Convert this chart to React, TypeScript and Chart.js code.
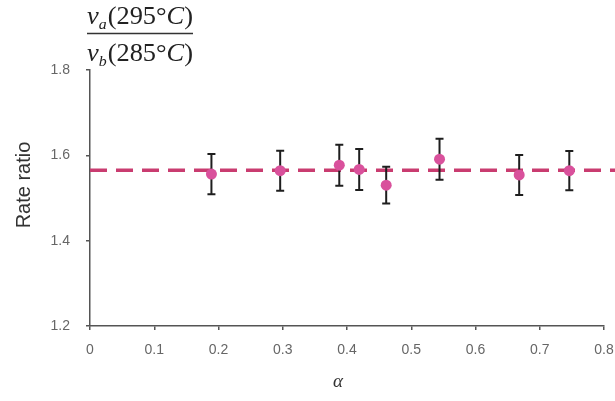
import React, { useEffect, useRef } from 'react';
import { Chart, registerables } from 'chart.js';

Chart.register(...registerables);

// ---- data ----
const alphaValues = [0.189, 0.296, 0.388, 0.419, 0.461, 0.544, 0.668, 0.746];
const rateRatios = [1.556, 1.564, 1.577, 1.567, 1.530, 1.591, 1.554, 1.564];
const rateErrors = [0.047, 0.047, 0.048, 0.048, 0.043, 0.048, 0.047, 0.046];
const meanRatio = 1.565;
const meanLineStart = 0;
const meanLineEnd = 0.825;

const xMin = 0;
const xMax = 0.8;
const xStep = 0.1;
const yMin = 1.2;
const yMax = 1.8;
const yStep = 0.2;

const yTitle = 'Rate ratio';
const xTitle = 'α';
const numeratorParts = [
  { text: 'v', style: 'italic' },
  { text: 'a', style: 'sub' },
  { text: '(295°', style: 'normal' },
  { text: 'C', style: 'italic' },
  { text: ')', style: 'normal' },
];
const denominatorParts = [
  { text: 'v', style: 'italic' },
  { text: 'b', style: 'sub' },
  { text: '(285°', style: 'normal' },
  { text: 'C', style: 'italic' },
  { text: ')', style: 'normal' },
];

const MARKER_COLOR = '#d9519c';
const LINE_COLOR = '#c93c70';
const AXIS_COLOR = '#555555';
const TEXT_COLOR = '#222222';

function partFont(style: string) {
  if (style === 'italic') return 'italic 25px "Liberation Serif"';
  if (style === 'sub') return 'italic 15px "Liberation Serif"';
  return '25px "Liberation Serif"';
}

function drawFormulaLine(ctx: CanvasRenderingContext2D, parts: { text: string; style: string }[], x: number, y: number, sx: number) {
  let cx = 0;
  ctx.save();
  ctx.translate(x, y);
  ctx.scale(sx, 1);
  for (const p of parts) {
    ctx.font = partFont(p.style);
    const dy = p.style === 'sub' ? 5 : 0;
    ctx.fillText(p.text, cx, dy);
    cx += ctx.measureText(p.text).width + (p.style === 'sub' ? 1 : 0);
  }
  ctx.restore();
}

function measureFormula(ctx: CanvasRenderingContext2D, parts: { text: string; style: string }[]) {
  let w = 0;
  for (const p of parts) {
    ctx.font = partFont(p.style);
    w += ctx.measureText(p.text).width + (p.style === 'sub' ? 1 : 0);
  }
  return w;
}

const decorPlugin = {
  id: 'decor',
  beforeDatasetDraw(chart: any, args: any) {
    if (args.index !== 0) return;
    const ctx = chart.ctx as CanvasRenderingContext2D;
    const xs = chart.scales.x;
    const ys = chart.scales.y;
    ctx.save();
    ctx.strokeStyle = '#1e1e1e';
    ctx.lineWidth = 2;
    for (let i = 0; i < alphaValues.length; i++) {
      const px = xs.getPixelForValue(alphaValues[i]);
      const top = ys.getPixelForValue(rateRatios[i] + rateErrors[i]);
      const bot = ys.getPixelForValue(rateRatios[i] - rateErrors[i]);
      ctx.beginPath();
      ctx.moveTo(px, top);
      ctx.lineTo(px, bot);
      ctx.moveTo(px - 4, top);
      ctx.lineTo(px + 4, top);
      ctx.moveTo(px - 4, bot);
      ctx.lineTo(px + 4, bot);
      ctx.stroke();
    }
    ctx.restore();
  },
  afterDraw(chart: any) {
    const ctx = chart.ctx as CanvasRenderingContext2D;
    const area = chart.chartArea;
    ctx.save();
    ctx.fillStyle = '#333333';
    // y title
    ctx.save();
    ctx.translate(24, 185);
    ctx.rotate(-Math.PI / 2);
    ctx.font = '20px "Liberation Sans"';
    ctx.textAlign = 'center';
    ctx.textBaseline = 'middle';
    ctx.fillText(yTitle, 0, 0);
    ctx.restore();
    // x title
    ctx.font = 'italic 19px "Liberation Serif"';
    ctx.textAlign = 'center';
    ctx.textBaseline = 'alphabetic';
    ctx.fillText(xTitle, 338, 387);
    // formula
    ctx.fillStyle = TEXT_COLOR;
    ctx.textAlign = 'left';
    const left = area.left - 3;
    const targetW = 106;
    const w = Math.max(measureFormula(ctx, numeratorParts), measureFormula(ctx, denominatorParts));
    const sx = targetW / w;
    drawFormulaLine(ctx, numeratorParts, left, 24, sx);
    ctx.strokeStyle = '#333333';
    ctx.lineWidth = 1.5;
    ctx.beginPath();
    ctx.moveTo(left, 33.5);
    ctx.lineTo(left + targetW, 33.5);
    ctx.stroke();
    drawFormulaLine(ctx, denominatorParts, left, 61, sx);
    ctx.restore();
  },
};

export default function App() {
  const canvasRef = useRef<HTMLCanvasElement | null>(null);

  useEffect(() => {
    const canvas = canvasRef.current;
    if (!canvas) return;
    const chart = new Chart(canvas, {
      type: 'scatter',
      data: {
        datasets: [
          {
            label: 'Rate ratio',
            data: alphaValues.map((a, i) => ({ x: a, y: rateRatios[i] })),
            backgroundColor: MARKER_COLOR,
            borderWidth: 0,
            pointRadius: 5.5,
            pointHoverRadius: 5.5,
          },
          {
            label: 'Mean',
            data: [
              { x: meanLineStart, y: meanRatio },
              { x: meanLineEnd, y: meanRatio },
            ],
            showLine: true,
            borderColor: LINE_COLOR,
            borderWidth: 3.5,
            borderDash: [17, 9],
            pointRadius: 0,
            clip: false,
          } as any,
        ],
      },
      options: {
        responsive: false,
        animation: false,
        layout: { padding: { left: 0, right: 11, top: 70, bottom: 0 } },
        plugins: { legend: { display: false }, tooltip: { enabled: false } },
        scales: {
          x: {
            type: 'linear',
            min: xMin,
            max: xMax,
            ticks: {
              stepSize: xStep,
              color: '#666666',
              font: { family: 'Liberation Sans', size: 14 },
              padding: 12,
              maxRotation: 0,
              callback: (v: any) => (Number(v) === 0 ? '0' : Number(v).toFixed(1)),
            },
            grid: { drawOnChartArea: false, drawTicks: true, tickLength: 4, color: AXIS_COLOR, lineWidth: 1.5 },
            border: { color: AXIS_COLOR, width: 1.5 },
            afterFit: (scale: any) => {
              scale.height = 75;
              scale.paddingLeft = 0;
              scale.paddingRight = 0;
            },
          },
          y: {
            type: 'linear',
            min: yMin,
            max: yMax,
            ticks: {
              stepSize: yStep,
              color: '#666666',
              font: { family: 'Liberation Sans', size: 14 },
              padding: 16,
              callback: (v: any) => Number(v).toFixed(1),
            },
            grid: { drawOnChartArea: false, drawTicks: true, tickLength: 4, color: AXIS_COLOR, lineWidth: 1.5 },
            border: { color: AXIS_COLOR, width: 1.5 },
            afterFit: (scale: any) => {
              scale.width = 90;
              scale.paddingTop = 0;
              scale.paddingBottom = 0;
            },
          },
        },
      },
      plugins: [decorPlugin],
    });
    return () => chart.destroy();
  }, []);

  return (
    <div style={{ position: 'absolute', left: 0, top: 0, width: 615, height: 401, background: '#ffffff' }}>
      <canvas ref={canvasRef} width={615} height={401} />
    </div>
  );
}
